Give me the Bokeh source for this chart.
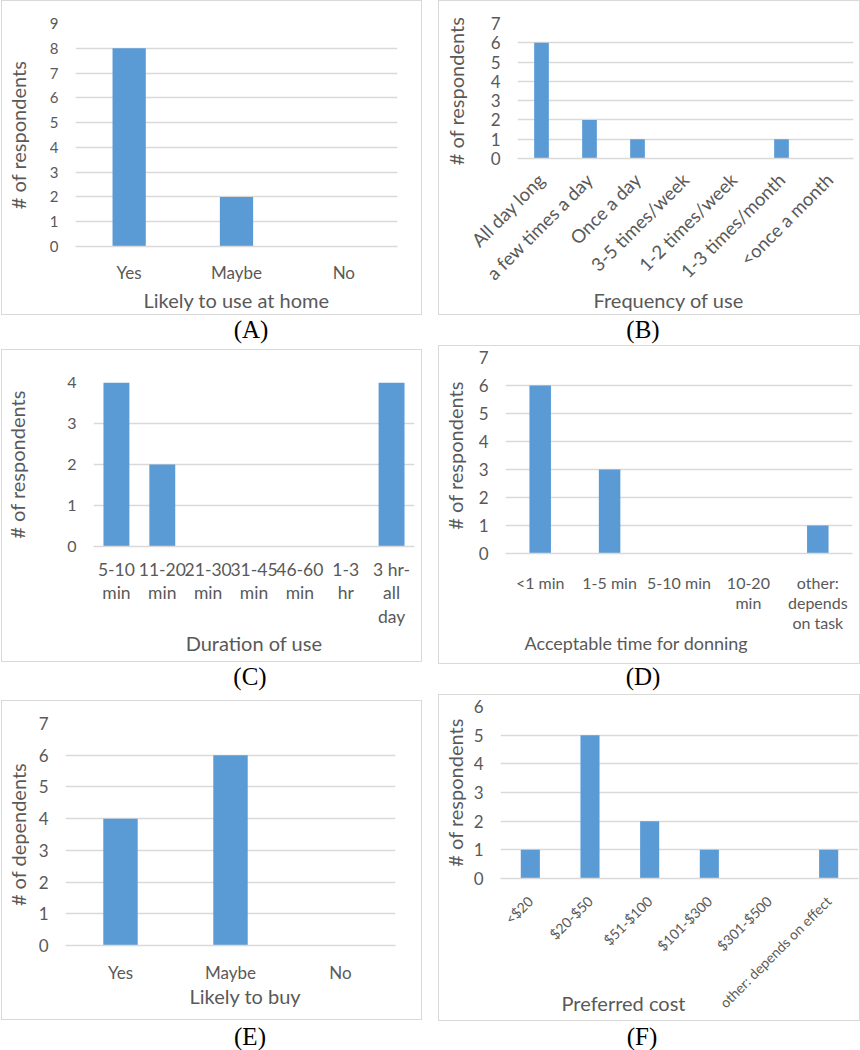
import math
from bokeh.plotting import figure
from bokeh.models import Range1d, FactorRange, FixedTicker, Div, Title, Spacer
from bokeh.layouts import column, row
from bokeh.embed import file_html
from bokeh.resources import INLINE

BAR = "#5B9BD5"
GRID = "#D9D9D9"
TXT = "#595959"
FONT = "Lato"

# ---------------- data ----------------
a_cats = ["Yes", "Maybe", "No"]
a_vals = [8, 2, 0]
a_ymax = 9

b_cats = ["All day long", "a few times a day", "Once a day", "3-5 times/week",
          "1-2 times/week", "1-3 times/month", "<once a month"]
b_vals = [6, 2, 1, 0, 0, 1, 0]
b_ymax = 7

c_cats = ["5-10\nmin", "11-20\nmin", "21-30\nmin", "31-45\nmin", "46-60\nmin",
          "1-3\nhr", "3 hr-\nall\nday"]
c_vals = [4, 2, 0, 0, 0, 0, 4]
c_ymax = 4

d_cats = ["<1 min", "1-5 min", "5-10 min", "10-20\nmin", "other:\ndepends\non task"]
d_vals = [6, 3, 0, 0, 1]
d_ymax = 7

e_cats = ["Yes", "Maybe", "No"]
e_vals = [4, 6, 0]
e_ymax = 7

f_cats = ["<$20", "$20-$50", "$51-$100", "$101-$300", "$301-$500", "other: depends on effect"]
f_vals = [1, 5, 2, 1, 0, 1]
f_ymax = 6

titles_y = ["# of respondents", "# of respondents", "# of respondents",
            "# of respondents", "# of dependents", "# of respondents"]
titles_x = ["Likely to use at home", "Frequency of use", "Duration of use",
            "Acceptable time for donning", "Likely to buy", "Preferred cost"]
captions = ["(A)", "(B)", "(C)", "(D)", "(E)", "(F)"]


def make_panel(cats, vals, ymax, ytitle, xtitle, cfg):
    w, h = cfg["w"], cfg["h"]
    bl, br, bt, bb = cfg["border"]
    p = figure(width=w, height=h, x_range=FactorRange(factors=cats),
               y_range=Range1d(0, ymax), output_backend="svg", toolbar_location=None,
               min_border_left=bl, min_border_right=br, min_border_top=bt,
               min_border_bottom=bb)
    p.vbar(x=cats, top=vals, width=cfg["bar"], fill_color=BAR, line_color=None)
    p.outline_line_color = None
    p.background_fill_color = "white"
    p.border_fill_color = "white"
    p.xgrid.visible = False
    p.ygrid.grid_line_color = GRID
    p.ygrid.grid_line_width = 1.5
    p.yaxis.ticker = FixedTicker(ticks=list(range(ymax + 1)))
    for ax in (p.xaxis, p.yaxis):
        ax.major_tick_line_color = None
        ax.minor_tick_line_color = None
        ax.major_tick_out = 0
        ax.minor_tick_out = 0
        ax.major_tick_in = 0
    p.yaxis.axis_line_color = None
    p.yaxis.major_label_text_font = FONT
    p.yaxis.major_label_text_font_size = "%dpx" % cfg["ytick"]
    p.yaxis.major_label_text_color = TXT
    p.yaxis.major_label_standoff = 17
    p.yaxis.axis_label = ytitle
    p.yaxis.axis_label_text_font = FONT
    p.yaxis.axis_label_text_font_style = "normal"
    p.yaxis.axis_label_text_font_size = "%dpx" % cfg["ytitle"]
    p.yaxis.axis_label_text_color = TXT
    p.yaxis.axis_label_standoff = cfg["ylso"]
    p.xaxis.axis_line_color = GRID
    p.xaxis.axis_line_width = 1.5
    p.xaxis.major_label_text_font = FONT
    p.xaxis.major_label_text_font_size = "%gpx" % cfg["xtick"]
    p.xaxis.major_label_text_color = TXT
    p.xaxis.major_label_standoff = cfg["xso"]
    p.xaxis.major_label_text_line_height = cfg.get("lh", 1.2)
    if cfg.get("orient"):
        p.xaxis.major_label_orientation = cfg["orient"]
    t = Title(text=xtitle, align=cfg["talign"], offset=cfg["toff"],
              standoff=cfg["tso"], vertical_align=cfg.get("tva", "bottom"),
              text_font=FONT, text_font_style="normal",
              text_font_size="%gpx" % cfg["xtitle"], text_color=TXT)
    p.add_layout(t, "below")
    p.styles = {"box-shadow": "0 0 0 1px #D9D9D9"}
    return p


def caption(txt, cx, w, h, lh):
    html = ('<div style="margin-left:%dpx;width:60px;text-align:center;'
            'font-family:\'Liberation Serif\';font-size:25px;line-height:%dpx;'
            'color:#000;">%s</div>' % (cx - 30, lh, txt))
    return Div(text=html, width=w, height=h, margin=0)


cfgA = dict(w=419, h=313, border=(73, 24, 22, 68), bar=0.31, ytick=15, ytitle=20, ylso=17,
            xtick=17, xso=15, xtitle=20, talign="center", toff=0, tso=0)
cfgB = dict(w=420, h=313, border=(78, 6, 22, 156), bar=0.306, ytick=17, ytitle=20, ylso=20,
            xtick=18.5, xso=18, orient=math.pi / 4, xtitle=20,
            talign="left", toff=76, tso=-14, tva="top")
cfgC = dict(w=419, h=311, border=(91, 7, 32, 115), bar=0.565, ytick=16, ytitle=20, ylso=35,
            xtick=17.5, xso=12, lh=1.14, xtitle=20, talign="center", toff=0,
            tso=0, tva="top")
cfgD = dict(w=420, h=317, border=(66, 7, 11, 110), bar=0.31, ytick=17, ytitle=20, ylso=9,
            xtick=16, xso=19, lh=1.07, xtitle=18, talign="left", toff=19,
            tso=-8, tva="top")
cfgE = dict(w=419, h=318, border=(61, 26, 22, 74), bar=0.313, ytick=17, ytitle=20, ylso=6,
            xtick=17, xso=16, xtitle=20, talign="left", toff=124, tso=-4, tva="top")
cfgF = dict(w=420, h=325, border=(60, 1, 11, 142), bar=0.32, ytick=17, ytitle=20, ylso=4,
            xtick=14, xso=20, orient=math.pi / 4, xtitle=20,
            talign="left", toff=61, tso=-60, tva="top")

pA = make_panel(a_cats, a_vals, a_ymax, titles_y[0], titles_x[0], cfgA)
pB = make_panel(b_cats, b_vals, b_ymax, titles_y[1], titles_x[1], cfgB)
pC = make_panel(c_cats, c_vals, c_ymax, titles_y[2], titles_x[2], cfgC)
pD = make_panel(d_cats, d_vals, d_ymax, titles_y[3], titles_x[3], cfgD)
pE = make_panel(e_cats, e_vals, e_ymax, titles_y[4], titles_x[4], cfgE)
pF = make_panel(f_cats, f_vals, f_ymax, titles_y[5], titles_x[5], cfgF)

left = column(Spacer(height=1),
              column(pA, caption(captions[0], 249, 419, 36, 32)),
              column(pC, caption(captions[2], 248, 419, 40, 32)),
              column(pE, caption(captions[4], 248, 419, 29, 36)), spacing=0)
right = column(Spacer(height=1),
               column(pB, caption(captions[1], 204, 420, 32, 32)),
               column(pD, caption(captions[3], 204, 420, 32, 28)),
               column(pF, caption(captions[5], 203, 420, 28, 34)), spacing=0)
layout = row(Spacer(width=2), left, Spacer(width=18), right, spacing=0)

open("out.html", "w").write(file_html(layout, INLINE))
